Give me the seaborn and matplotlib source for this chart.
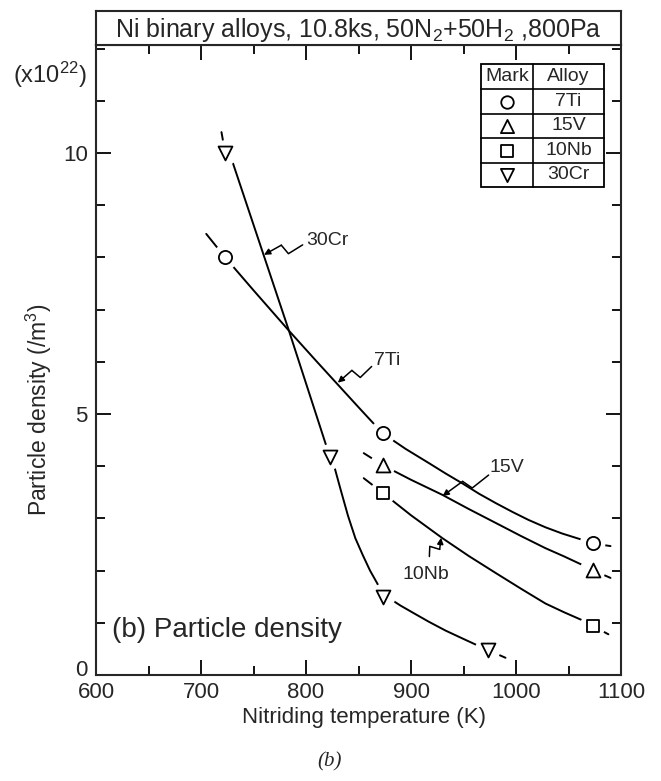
import numpy as np
import pandas as pd
import matplotlib
matplotlib.use("Agg")
import matplotlib.pyplot as plt
from matplotlib.patches import Rectangle
from matplotlib.transforms import ScaledTranslation
import seaborn as sns

# ---------------- data ----------------
alloys = ["7Ti", "15V", "10Nb", "30Cr"]
alloy_markers = ["o", "^", "s", "v"]

temp_7Ti = [723, 873, 1073]
dens_7Ti = [8.0, 4.63, 2.52]
temp_15V = [873, 1073]
dens_15V = [4.02, 2.01]
temp_10Nb = [873, 1073]
dens_10Nb = [3.49, 0.94]
temp_30Cr = [723, 823, 873, 973]
dens_30Cr = [10.0, 4.18, 1.5, 0.48]

# hand-drawn curves
curve_x_7Ti = [705, 723, 750, 784, 810, 830, 850, 873, 895, 917, 933, 949, 965, 981,
               997, 1012, 1028, 1044, 1063, 1073, 1090]
curve_y_7Ti = [8.45, 8.0, 7.37, 6.59, 6.01, 5.57, 5.13, 4.63, 4.33, 4.06, 3.86, 3.67, 3.47, 3.29,
               3.12, 2.97, 2.83, 2.71, 2.59, 2.52, 2.47]
curve_x_15V = [855, 873, 900, 930, 955, 981, 1005, 1028, 1046, 1063, 1073, 1090]
curve_y_15V = [4.25, 4.02, 3.74, 3.45, 3.18, 2.91, 2.66, 2.43, 2.27, 2.11, 2.01, 1.86]
curve_x_10Nb = [855, 873, 900, 930, 955, 981, 1005, 1028, 1046, 1063, 1073, 1088]
curve_y_10Nb = [3.77, 3.49, 3.06, 2.62, 2.28, 1.95, 1.65, 1.37, 1.2, 1.05, 0.94, 0.78]
curve_x_30Cr = [719.5, 723, 730.5, 784, 819, 823, 827, 833, 840, 847, 854, 861, 868, 873,
                880, 890, 903, 917, 933, 949, 963, 973, 990]
curve_y_30Cr = [10.4, 10.0, 9.8, 6.58, 4.41, 4.18, 3.99, 3.55, 3.05, 2.62, 2.3, 2.0, 1.75, 1.5,
                1.46, 1.33, 1.18, 1.02, 0.85, 0.70, 0.57, 0.48, 0.33]

x_ticks = [600, 700, 800, 900, 1000, 1100]
y_ticks = [0, 5, 10]

# label text anchor, leader start, leader tip (data units)
label_pos = {"30Cr": (800.3, 8.33), "7Ti": (865.2, 6.02), "15V": (974.5, 3.98), "10Nb": (913.7, 2.08)}
leader_start = {"30Cr": (796.8, 8.24), "7Ti": (862.5, 5.91), "15V": (973.9, 3.83), "10Nb": (917.5, 2.27)}
leader_tip = {"30Cr": (760.0, 8.05), "7Ti": (830.3, 5.6), "15V": (930.1, 3.43), "10Nb": (928.6, 2.63)}

title_text = r"Ni binary alloys, 10.8ks, 50N$_2$+50H$_2$ ,800Pa"

# ---------------- style ----------------
sns.set_style("ticks")
plt.rcParams["font.family"] = ["Liberation Sans", "DejaVu Sans"]
plt.rcParams["mathtext.fontset"] = "custom"
plt.rcParams["mathtext.rm"] = "Liberation Sans"
plt.rcParams["mathtext.it"] = "Liberation Sans:italic"

W, H = 661, 781
fig = plt.figure(figsize=(W / 100, H / 100), dpi=100)
fig.patch.set_facecolor("white")

L, R, T, B = 96, 621, 45, 675
ax = fig.add_axes([L / W, 1 - B / H, (R - L) / W, (B - T) / H])
ax.set_facecolor("white")
ax.set_xlim(600, 1100)
ax.set_ylim(0, (B - T) / 52.2)

# title band
tax = fig.add_axes([L / W, 1 - T / H, (R - L) / W, (T - 11) / H])
tax.set_xticks([]); tax.set_yticks([])
for s in tax.spines.values():
    s.set_linewidth(1.5)
tax.text(0.5, 0.45, title_text, ha="center", va="center", fontsize=18, transform=tax.transAxes)

for s in ax.spines.values():
    s.set_linewidth(1.5)
    s.set_visible(True)

ax.set_xticks(x_ticks)
ax.set_yticks(y_ticks)
ax.set_xticklabels([str(v) for v in x_ticks])
ax.set_yticklabels([str(v) for v in y_ticks])
ax.xaxis.set_minor_locator(matplotlib.ticker.MultipleLocator(50))
ax.yaxis.set_minor_locator(matplotlib.ticker.MultipleLocator(1))
ax.tick_params(which="both", direction="in", top=True, right=True, width=1.3, color="k")
ax.tick_params(which="major", length=11, labelsize=16)
ax.tick_params(axis="x", which="major", pad=5)
ax.tick_params(axis="y", which="major", pad=6)
ax.tick_params(which="minor", length=6.5)

# lift the "0" label a little, as in the reference
zero_lbl = ax.yaxis.get_major_ticks()[0].label1
zero_lbl.set_transform(zero_lbl.get_transform() + ScaledTranslation(0, 7 / 100, fig.dpi_scale_trans))

# curves
curves = [(curve_x_7Ti, curve_y_7Ti), (curve_x_15V, curve_y_15V),
          (curve_x_10Nb, curve_y_10Nb), (curve_x_30Cr, curve_y_30Cr)]
points = [(temp_7Ti, dens_7Ti), (temp_15V, dens_15V),
          (temp_10Nb, dens_10Nb), (temp_30Cr, dens_30Cr)]
sizes = {"o": 90, "^": 100, "s": 75, "v": 100}

for (cx, cy) in curves:
    sns.lineplot(x=cx, y=cy, sort=False, estimator=None, color="k", lw=1.4, ax=ax, zorder=2)

for (px, py) in points:
    sns.scatterplot(x=px, y=py, marker="o", s=340, color="white", edgecolor="none",
                    linewidth=0, ax=ax, zorder=3)
for (px, py), m in zip(points, alloy_markers):
    sns.scatterplot(x=px, y=py, marker=m, s=sizes[m], color="white", edgecolor="k",
                    linewidth=1.3, ax=ax, zorder=4)

# zigzag leaders
def leader(name):
    trans = ax.transData
    A = trans.transform(leader_start[name])
    Tt = trans.transform(leader_tip[name])
    d = Tt - A
    Ln = np.hypot(*d)
    u = d / Ln
    n = np.array([-u[1], u[0]])
    P1 = A + 0.40 * d + n * 5
    P2 = A + 0.52 * d - n * 5
    pts = trans.inverted().transform(np.vstack([A, P1, P2]))
    ax.plot(pts[:, 0], pts[:, 1], color="k", lw=1.1, zorder=5)
    ax.annotate("", xy=leader_tip[name], xytext=pts[2],
                arrowprops=dict(arrowstyle="-|>", color="k", lw=1.1, shrinkA=0, shrinkB=0,
                                mutation_scale=9), zorder=5)

for name in alloys:
    leader(name)

ax.text(*label_pos["30Cr"], "30Cr", fontsize=14, ha="left", va="center")
ax.text(*label_pos["7Ti"], "7Ti", fontsize=14, ha="left", va="center")
ax.text(*label_pos["15V"], "15V", fontsize=14, ha="left", va="center")
ax.text(*label_pos["10Nb"], "10Nb", fontsize=14, ha="center", va="top")

# legend table (axes fraction)
def fx(p):
    return (p - L) / (R - L)
def fy(p):
    return (B - p) / (B - T)

tl, tr, td = fx(481), fx(604), fx(533)
ttop, tbot = fy(64), fy(187)
rows = [fy(89), fy(114), fy(138), fy(163)]
ax.add_patch(Rectangle((tl, tbot), tr - tl, ttop - tbot, transform=ax.transAxes,
                       fill=True, facecolor="white", edgecolor="k", lw=1.3, zorder=6))
ax.plot([td, td], [tbot, ttop], transform=ax.transAxes, color="k", lw=1.2, zorder=7)
for r in rows:
    ax.plot([tl, tr], [r, r], transform=ax.transAxes, color="k", lw=1.2, zorder=7)
edges = [ttop] + rows + [tbot]
centers = [(edges[i] + edges[i + 1]) / 2 for i in range(5)]
ax.text((tl + td) / 2, centers[0], "Mark", transform=ax.transAxes, ha="center", va="center",
        fontsize=14, zorder=8)
ax.text((td + tr) / 2, centers[0], "Alloy", transform=ax.transAxes, ha="center", va="center",
        fontsize=14, zorder=8)
for i, (name, m) in enumerate(zip(alloys, alloy_markers)):
    ax.scatter([(tl + td) / 2], [centers[i + 1]], marker=m, s=sizes[m] * 0.9, facecolor="white",
               edgecolor="k", linewidth=1.3, transform=ax.transAxes, zorder=8)
    ax.text((td + tr) / 2, centers[i + 1], name, transform=ax.transAxes, ha="center",
            va="center", fontsize=14, zorder=8)

# axis labels and annotations
fig.text(39 / W, 1 - 410 / H, "Particle density (/m$^3$)", rotation=90, ha="center",
         va="center", fontsize=16.5)
fig.text(364 / W, 1 - 717 / H, "Nitriding temperature (K)", ha="center", va="center", fontsize=16)
fig.text(50 / W, 1 - 75 / H, r"(x10$^{22}$)", ha="center", va="center", fontsize=17)
fig.text(112 / W, 1 - 630 / H, "(b) Particle density", ha="left", va="center", fontsize=20)
fig.text(330 / W, 1 - 762 / H, "(b)", ha="center", va="center", fontsize=15,
         family=["Liberation Serif", "DejaVu Serif"], style="italic")

fig.savefig("out.png", dpi=100, facecolor="white")
